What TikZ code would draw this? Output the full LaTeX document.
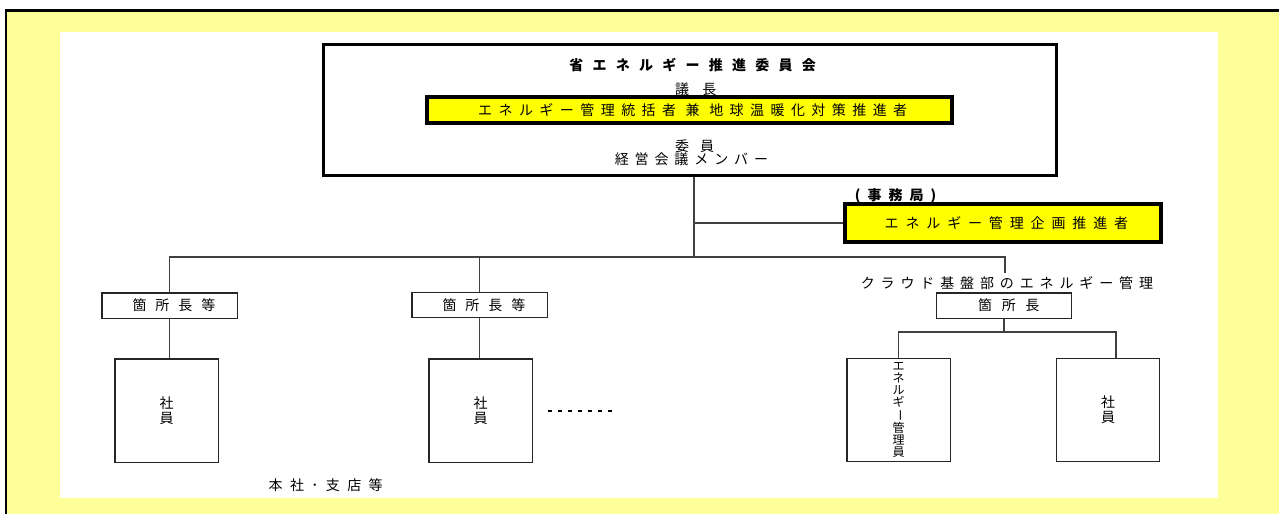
\documentclass[tikz,border=0pt]{standalone}
\usepackage{fontspec}
\usepackage{graphicx}
\setmainfont{Noto Sans CJK JP}
\usetikzlibrary{calc}
\definecolor{bgyellow}{HTML}{FFFF99}
\definecolor{boxyellow}{HTML}{FFFF00}
\newcommand\LSp[2]{{\addfontfeature{LetterSpace=#1}#2\kern-\dimexpr #1em/100\relax}}
\begin{document}
\begin{tikzpicture}[x=0.75pt,y=-0.75pt,
  font=\fontsize{10.5}{12}\selectfont,
  frame/.style={draw, line width=2.6pt, fill=white, inner sep=0pt},
  ybox/.style={draw, line width=3pt, fill=boxyellow, inner sep=0pt},
  sbox/.style={draw=black!85, line width=1.1pt, fill=white, inner sep=0pt},
  conn/.style={draw=black!75, line width=1.1pt},
  lbl/.style={inner sep=0pt}]
\useasboundingbox (0,0) rectangle (1279,514);
\fill[white] (0,0) rectangle (1279,514);
\fill[bgyellow] (6,10.5) rectangle (1279,514);
\draw[line width=2pt] (6,514) -- (6,10.5) -- (1279,10.5);
\fill[white] (60,32) rectangle (1218,498);

% committee
\node[frame, minimum width=549.4pt, minimum height=97.9pt] (main) at (690,110) {};
\node[lbl, font=\fontsize{10.5}{12}\selectfont\bfseries] (title) at (688,65) {\LSp{66}{省エネルギー推進委員会}};
\node[lbl] (gicho) at (689,89) {\LSp{95}{議長}};
\node[ybox, minimum width=393.75pt, minimum height=19.5pt] (chair) at (689.5,110) {\LSp{46}{エネルギー管理統括者 兼 地球温暖化対策推進者}};
\node[lbl] (iin) at (689,146) {\LSp{80}{委員}};
\node[lbl] (keiei) at (688.5,159) {\LSp{42}{経営会議メンバー}};

% secretariat
\coordinate (t) at (694,257);
\draw[conn] (main.south -| t) -- (t);
\node[ybox, minimum width=237pt, minimum height=28.5pt] (sec) at (1003,223) {\LSp{49}{エネルギー管理企画推進者}};
\draw[conn] (t |- sec.west) -- (sec.west);
\node[lbl, font=\fontsize{10.5}{12}\selectfont\bfseries] (jim) at (892,196) {\LSp{50}{(事務局)}};

% managers
\node[sbox, minimum width=101.6pt, minimum height=19.1pt] (m1) at (169.5,305.5) {\LSp{64}{箇所長等}};
\node[sbox, minimum width=101.6pt, minimum height=19.1pt] (m2) at (479.5,305) {\LSp{64}{箇所長等}};
\node[sbox, minimum width=100.9pt, minimum height=19.1pt] (m3) at (1004,305.5) {\LSp{68}{箇所長}};
\node[lbl] (cloud) at (1004,283) {\LSp{42}{クラウド基盤部のエネルギー管理}};
\coordinate (rt) at (1005,273);
\draw[conn] (m1.north) |- (t);
\draw[conn] (m2.north) |- (t);
\draw[conn] (rt) |- (t);

% employees
\node[sbox, minimum width=77.6pt, minimum height=77.6pt, align=center, font=\fontsize{10.5}{11.25}\selectfont] (e1) at (166.5,410.5) {社\\員};
\node[sbox, minimum width=77.6pt, minimum height=77.6pt, align=center, font=\fontsize{10.5}{11.25}\selectfont] (e2) at (480.5,410.5) {社\\員};
\node[sbox, minimum width=77.6pt, minimum height=77.6pt, align=center, font=\fontsize{9}{9}\selectfont] (e3) at (898.5,410) {エ\\ネ\\ル\\ギ\\\rotatebox[origin=c]{-90}{ー}\\管\\理\\員};
\node[sbox, minimum width=77.6pt, minimum height=77.6pt, align=center, font=\fontsize{10.5}{11.25}\selectfont] (e4) at (1108,410) {社\\員};

\draw[conn] (m1.south) -- (m1.south |- e1.north);
\draw[conn] (m2.south) -- (m2.south |- e2.north);
\coordinate (j) at (1004,332);
\draw[conn] (m3.south) -- (j);
\draw[conn] (e3.north) |- (j);
\draw[conn] ($(e4.north)+(8,0)$) |- (j);

\coordinate (d1) at (548,411);
\coordinate (d2) at (616,411);
\draw[line width=1.9pt, dash pattern=on 3pt off 4.5pt] (d1) -- (d2);
\node[lbl] (honsha) at (322,485) {\LSp{53}{本社･支店等}};
\end{tikzpicture}
\end{document}
